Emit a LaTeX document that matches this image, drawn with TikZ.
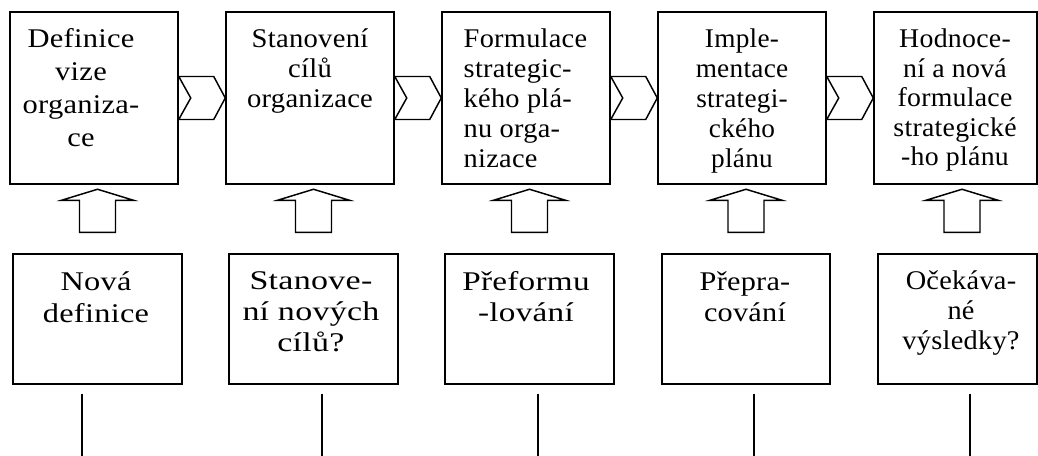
\documentclass[tikz,border=0pt]{standalone}
\usepackage{fontspec}
\setmainfont{Liberation Serif}
\usetikzlibrary{calc}
\newcommand\myUpArrow[2]{%
  \draw ($(#1.north)+(#2-18,-21)$) -- ($(#1.north)+(#2-18,-53)$) -- ($(#1.north)+(#2-36,-53)$)
     -- ($(#1.north)+(#2,-64)$) -- ($(#1.north)+(#2+36,-53)$) -- ($(#1.north)+(#2+18,-53)$)
     -- ($(#1.north)+(#2+18,-21)$) -- cycle;}
\newcommand\myChevron[2]{%
  \draw ($(#1.east)+(0,-21.5)$) -- ($(#1.east)+(35,-21.5)$) -- (#2.west)
     -- ($(#1.east)+(35,21.5)$) -- ($(#1.east)+(0,21.5)$) -- ($(#1.east)+(12,0)$) -- cycle;}
\begin{document}
\begin{tikzpicture}[x=0.75pt,y=-0.75pt,line width=1.1pt,line join=miter,
  topbox/.style={draw, inner sep=0pt, minimum width=126pt, minimum height=129pt},
  botbox/.style={draw, inner sep=0pt, minimum width=126.75pt, minimum height=97.5pt},
  lbl/.style 2 args={inner sep=0pt, anchor=north, align=center,
     font=\fontsize{20.25}{#2}\selectfont\addfontfeatures{FakeStretch=#1,LetterSpace=1}},
  lblL/.style 2 args={lbl={#1}{#2}, anchor=north west, align=left},
  vline/.style={line width=1.1pt}]
\useasboundingbox (0,0) rectangle (1038,456);
% top boxes
\node[topbox] (t1) at (94,98) {};
\node[topbox] (t2) at (310,98) {};
\node[topbox] (t3) at (526,98) {};
\node[topbox] (t4) at (742,98) {};
\node[topbox, minimum width=122.25pt] (t5) at (955.5,98) {};
% top texts
\node[lbl={1.13}{24.75pt}] (x1) at (81,28) {Definice\\vize\\organiza-\\ce};
\node[lbl={1.06}{22.5pt}] (x2) at (310,28) {Stanovení\\cílů\\organizace};
\node[lblL={1.05}{22.5pt}] (x3) at (463,28) {Formulace\\strategic-\\kého plá-\\nu orga-\\nizace};
\node[lbl={1.01}{22.5pt}] (x4) at (742,28) {Imple-\\mentace\\strategi-\\ckého\\plánu};
\node[lbl={1.03}{22.2pt}] (x5) at (955,28) {Hodnoce-\\ní a nová\\formulace\\strategické\\-ho plánu};
% bottom boxes
\node[botbox] (b1) at (97.5,319) {};
\node[botbox] (b2) at (313.5,319) {};
\node[botbox] (b3) at (529.5,319) {};
\node[botbox, minimum width=126pt] (b4) at (746,319) {};
\node[botbox, minimum width=119.25pt] (b5) at (957.5,319) {};
% bottom texts
\node[lbl={1.2}{24pt}] (y1) at (96,271) {Nová\\definice};
\node[lbl={1.26}{23.25pt}] (y2) at (311,271) {Stanove-\\ní nových\\cílů?};
\node[lbl={1.23}{23.25pt}] (y3) at (526,271) {Přeformu\\-lování};
\node[lbl={1.12}{23.25pt}] (y4) at (745,271) {Přepra-\\cování};
\node[lbl={1.05}{22.5pt}] (y5) at (961,270) {Očekáva-\\né\\výsledky?};
% chevrons
\myChevron{t1}{t2}
\myChevron{t2}{t3}
\myChevron{t3}{t4}
\myChevron{t4}{t5}
% up arrows
\myUpArrow{b1}{0}
\myUpArrow{b2}{0}
\myUpArrow{b3}{0}
\myUpArrow{b4}{0}
\myUpArrow{b5}{4.5}
% vertical lines
\coordinate (l1a) at (82,394);  \coordinate (l1b) at (82,456);
\coordinate (l2a) at (322,394); \coordinate (l2b) at (322,456);
\coordinate (l3a) at (538,394); \coordinate (l3b) at (538,456);
\coordinate (l4a) at (754,394); \coordinate (l4b) at (754,456);
\coordinate (l5a) at (970,394); \coordinate (l5b) at (970,456);
\draw[vline] (l1a) -- (l1b);
\draw[vline] (l2a) -- (l2b);
\draw[vline] (l3a) -- (l3b);
\draw[vline] (l4a) -- (l4b);
\draw[vline] (l5a) -- (l5b);
\end{tikzpicture}
\end{document}
